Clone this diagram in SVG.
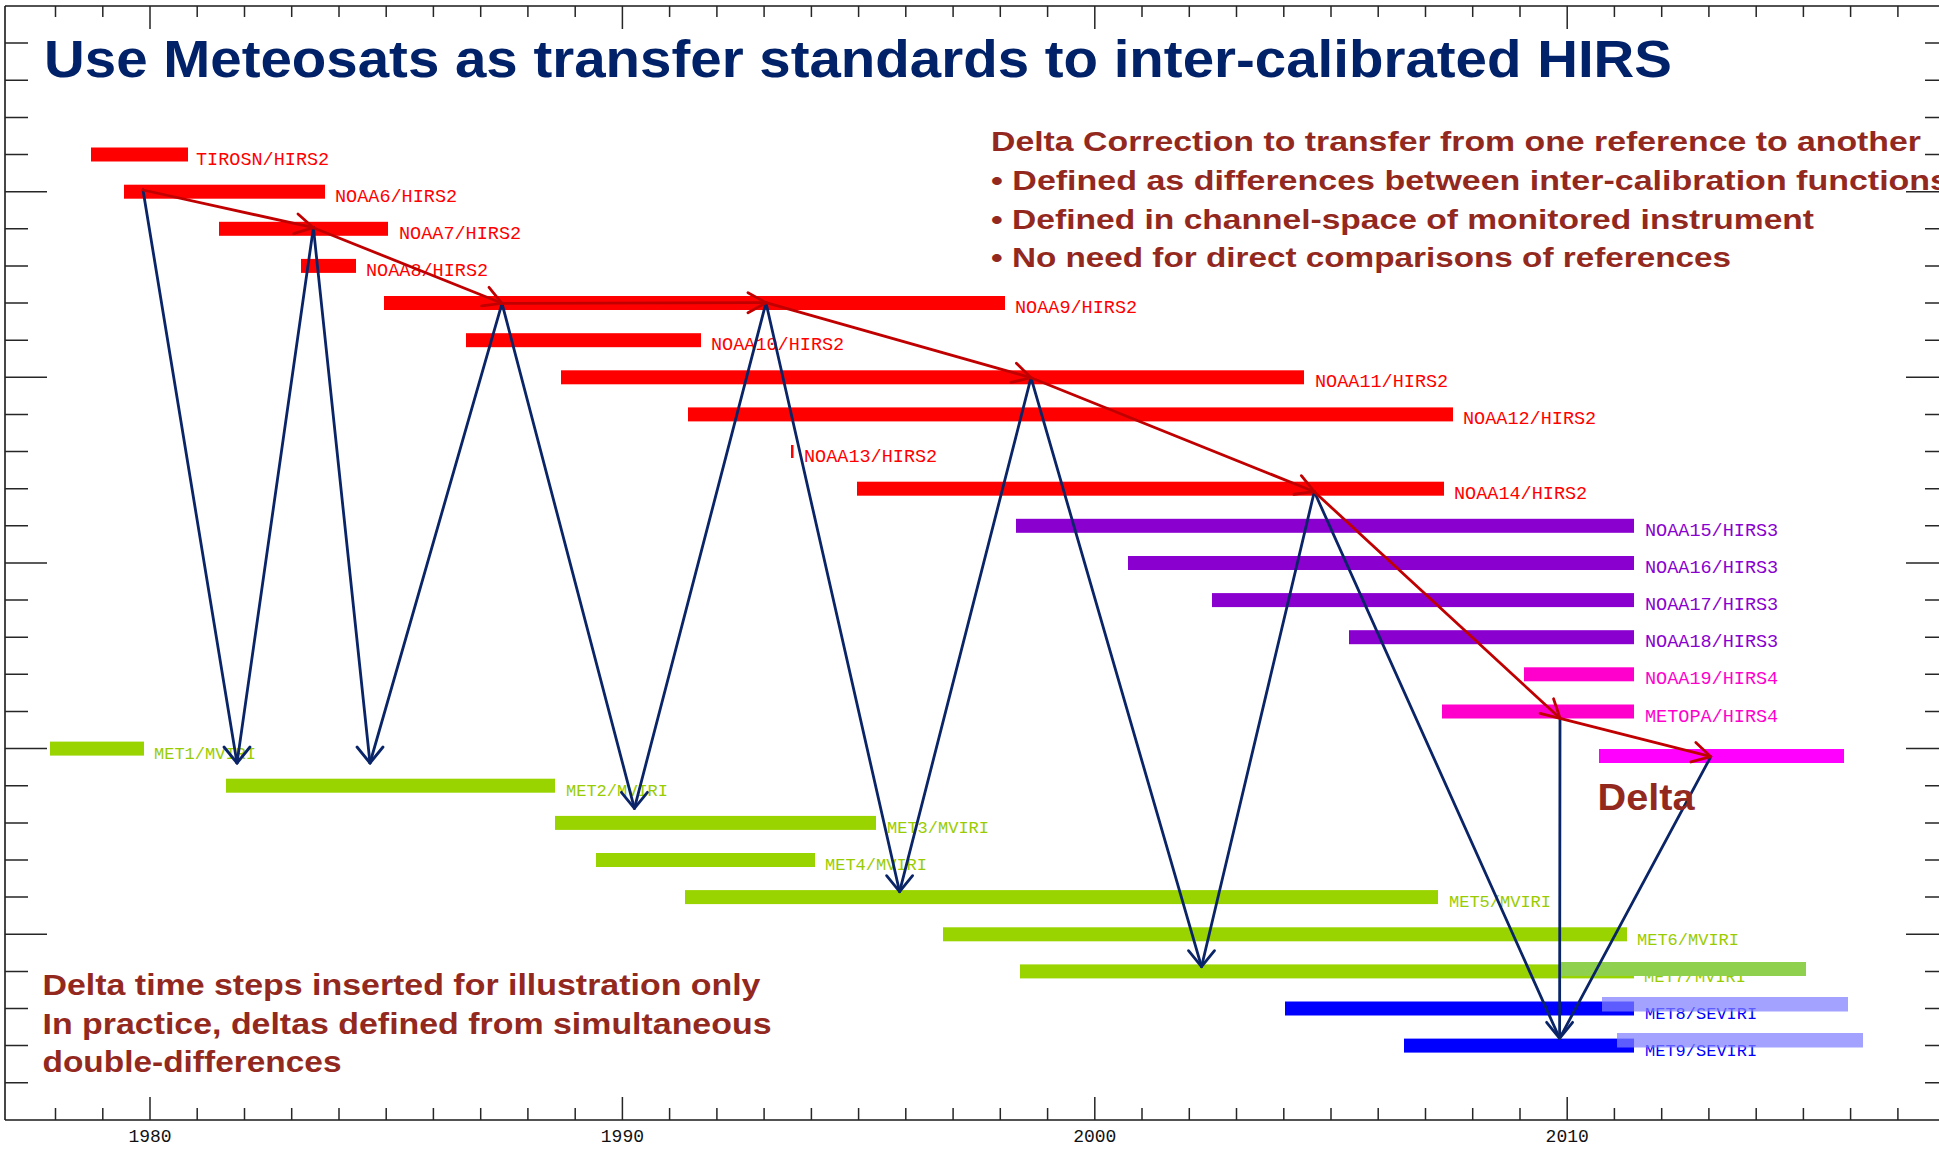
<svg xmlns="http://www.w3.org/2000/svg" width="1939" height="1153" viewBox="0 0 1939 1153">
  <style>
    .axis { stroke: #1a1a1a; stroke-width: 1.6; fill: none; }
    .tick { stroke: #262626; stroke-width: 1.5; fill: none; }
    .year { font-family: "Liberation Mono", monospace; font-size: 18px; fill: #111; text-anchor: middle; }
    .lbl { font-family: "Liberation Mono", monospace; font-size: 18.5px; }
    .lbl.met { font-size: 17px; }
    .c-red { fill: #ff0000; }
    .c-pur { fill: #8a00cf; }
    .c-mag { fill: #ff00cc; }
    .c-grn { fill: #99d400; }
    .t-grn { fill: #99cc00; }
    .c-blu { fill: #0000ff; }
    .link-blue { stroke: #0a2468; stroke-width: 2.8; fill: none; stroke-linecap: round; }
    .link-red { stroke: #c00000; stroke-width: 2.8; fill: none; stroke-linecap: round; }
    .title { font-family: "Liberation Sans", Arial, sans-serif; font-weight: bold; font-size: 51px; fill: #012169; }
    .note { font-family: "Liberation Sans", Arial, sans-serif; font-weight: bold; fill: #93291e; }
  </style>
  <defs>
    <!-- open chevron following the red transfer line -->
    <marker id="headRed" markerUnits="userSpaceOnUse" orient="auto" markerWidth="40" markerHeight="40" refX="0" refY="0" viewBox="-20 -20 40 40" overflow="visible">
      <path d="M-18,-10 L0,0 L-18,10" fill="none" stroke="#c00000" stroke-width="2.8" stroke-linecap="round" stroke-linejoin="round"/>
    </marker>
    <!-- open chevron always pointing straight down -->
    <marker id="headBlue" markerUnits="userSpaceOnUse" orient="90" markerWidth="40" markerHeight="40" refX="0" refY="0" viewBox="-20 -20 40 40" overflow="visible">
      <path d="M-16,-13 L0,0 L-16,13" fill="none" stroke="#0a2468" stroke-width="2.8" stroke-linecap="round" stroke-linejoin="round"/>
    </marker>
  </defs>

  <rect width="1939" height="1153" fill="#ffffff"/>

  <!-- plot frame -->
  <g id="axes">
    <path class="axis" d="M5 6H1939 M5 6V1120 M5 1120H1939"/>
    <!-- bottom axis: yearly ticks -->
    <path class="tick" d="M55.5 1120V1108 M102.8 1120V1108 M197.2 1120V1108 M244.5 1120V1108 M291.7 1120V1108 M339 1120V1108 M386.2 1120V1108 M433.4 1120V1108 M480.7 1120V1108 M527.9 1120V1108 M575.2 1120V1108 M669.6 1120V1108 M716.9 1120V1108 M764.1 1120V1108 M811.4 1120V1108 M858.6 1120V1108 M905.8 1120V1108 M953.1 1120V1108 M1000.3 1120V1108 M1047.6 1120V1108 M1142 1120V1108 M1189.3 1120V1108 M1236.5 1120V1108 M1283.8 1120V1108 M1331 1120V1108 M1378.2 1120V1108 M1425.5 1120V1108 M1472.7 1120V1108 M1520 1120V1108 M1614.4 1120V1108 M1661.7 1120V1108 M1708.9 1120V1108 M1756.2 1120V1108 M1803.4 1120V1108 M1850.6 1120V1108 M1897.9 1120V1108"/>
    <path class="tick" d="M150 1120V1097 M622.4 1120V1097 M1094.8 1120V1097 M1567.2 1120V1097"/>
    <!-- top axis: yearly ticks -->
    <path class="tick" d="M55.5 6V17 M102.8 6V17 M197.2 6V17 M244.5 6V17 M291.7 6V17 M339 6V17 M386.2 6V17 M433.4 6V17 M480.7 6V17 M527.9 6V17 M575.2 6V17 M669.6 6V17 M716.9 6V17 M764.1 6V17 M811.4 6V17 M858.6 6V17 M905.8 6V17 M953.1 6V17 M1000.3 6V17 M1047.6 6V17 M1142 6V17 M1189.3 6V17 M1236.5 6V17 M1283.8 6V17 M1331 6V17 M1378.2 6V17 M1425.5 6V17 M1472.7 6V17 M1520 6V17 M1614.4 6V17 M1661.7 6V17 M1708.9 6V17 M1756.2 6V17 M1803.4 6V17 M1850.6 6V17 M1897.9 6V17"/>
    <path class="tick" d="M150 6V29 M622.4 6V29 M1094.8 6V29 M1567.2 6V29"/>
    <!-- left axis ticks -->
    <path class="tick" d="M5 43.1H28 M5 80.3H28 M5 117.4H28 M5 154.5H28 M5 228.8H28 M5 265.9H28 M5 303H28 M5 340.2H28 M5 414.4H28 M5 451.6H28 M5 488.7H28 M5 525.8H28 M5 600.1H28 M5 637.2H28 M5 674.3H28 M5 711.5H28 M5 785.7H28 M5 822.9H28 M5 860H28 M5 897.1H28 M5 971.4H28 M5 1008.5H28 M5 1045.6H28 M5 1082.8H28"/>
    <path class="tick" d="M5 191.7H47 M5 377.3H47 M5 563H47 M5 748.6H47 M5 934.3H47"/>
    <!-- right axis ticks -->
    <path class="tick" d="M1925 43.1H1939 M1925 80.3H1939 M1925 117.4H1939 M1925 154.5H1939 M1925 228.8H1939 M1925 265.9H1939 M1925 303H1939 M1925 340.2H1939 M1925 414.4H1939 M1925 451.6H1939 M1925 488.7H1939 M1925 525.8H1939 M1925 600.1H1939 M1925 637.2H1939 M1925 674.3H1939 M1925 711.5H1939 M1925 785.7H1939 M1925 822.9H1939 M1925 860H1939 M1925 897.1H1939 M1925 971.4H1939 M1925 1008.5H1939 M1925 1045.6H1939 M1925 1082.8H1939"/>
    <path class="tick" d="M1906 191.7H1939 M1906 377.3H1939 M1906 563H1939 M1906 748.6H1939 M1906 934.3H1939"/>
    <text class="year" x="150" y="1142">1980</text>
    <text class="year" x="622.4" y="1142">1990</text>
    <text class="year" x="1094.8" y="1142">2000</text>
    <text class="year" x="1567.2" y="1142">2010</text>
  </g>

  <!-- HIRS instruments -->
  <g id="tirosn"><rect class="c-red" x="91" y="147.5" width="97" height="14"/><text class="lbl c-red" x="196" y="165">TIROSN/HIRS2</text></g>
  <g id="noaa6"><rect class="c-red" x="124" y="184.7" width="201" height="14"/><text class="lbl c-red" x="335" y="202">NOAA6/HIRS2</text></g>
  <g id="noaa7"><rect class="c-red" x="219" y="221.8" width="169" height="14"/><text class="lbl c-red" x="399" y="239">NOAA7/HIRS2</text></g>
  <g id="noaa8"><rect class="c-red" x="301" y="258.9" width="55" height="14"/><text class="lbl c-red" x="366" y="276">NOAA8/HIRS2</text></g>
  <g id="noaa9"><rect class="c-red" x="384" y="296" width="621" height="14"/><text class="lbl c-red" x="1015" y="313">NOAA9/HIRS2</text></g>
  <g id="noaa10"><rect class="c-red" x="466" y="333.2" width="235" height="14"/><text class="lbl c-red" x="711" y="350">NOAA10/HIRS2</text></g>
  <g id="noaa11"><rect class="c-red" x="561" y="370.3" width="743" height="14"/><text class="lbl c-red" x="1315" y="387">NOAA11/HIRS2</text></g>
  <g id="noaa12"><rect class="c-red" x="688" y="407.4" width="765" height="14"/><text class="lbl c-red" x="1463" y="424">NOAA12/HIRS2</text></g>
  <g id="noaa13"><rect class="c-red" x="791" y="445" width="2.5" height="13"/><text class="lbl c-red" x="804" y="461.5">NOAA13/HIRS2</text></g>
  <g id="noaa14"><rect class="c-red" x="857" y="481.7" width="587" height="14"/><text class="lbl c-red" x="1454" y="499">NOAA14/HIRS2</text></g>
  <g id="noaa15"><rect class="c-pur" x="1016" y="518.8" width="618" height="14"/><text class="lbl c-pur" x="1645" y="536">NOAA15/HIRS3</text></g>
  <g id="noaa16"><rect class="c-pur" x="1128" y="556" width="506" height="14"/><text class="lbl c-pur" x="1645" y="573">NOAA16/HIRS3</text></g>
  <g id="noaa17"><rect class="c-pur" x="1212" y="593.1" width="422" height="14"/><text class="lbl c-pur" x="1645" y="610">NOAA17/HIRS3</text></g>
  <g id="noaa18"><rect class="c-pur" x="1349" y="630.2" width="285" height="14"/><text class="lbl c-pur" x="1645" y="647">NOAA18/HIRS3</text></g>
  <g id="noaa19"><rect class="c-mag" x="1524" y="667.3" width="110" height="14"/><text class="lbl c-mag" x="1645" y="684">NOAA19/HIRS4</text></g>
  <g id="metopa"><rect class="c-mag" x="1442" y="704.5" width="192" height="14"/><text class="lbl c-mag" x="1645" y="721.5">METOPA/HIRS4</text></g>

  <!-- Meteosat instruments -->
  <g id="met1"><rect class="c-grn" x="50" y="741.6" width="94" height="14"/><text class="lbl met t-grn" x="154" y="759">MET1/MVIRI</text></g>
  <g id="met2"><rect class="c-grn" x="226" y="778.7" width="329" height="14"/><text class="lbl met t-grn" x="566" y="796">MET2/MVIRI</text></g>
  <g id="met3"><rect class="c-grn" x="555" y="815.9" width="321" height="14"/><text class="lbl met t-grn" x="887" y="833">MET3/MVIRI</text></g>
  <g id="met4"><rect class="c-grn" x="596" y="853" width="219" height="14"/><text class="lbl met t-grn" x="825" y="870">MET4/MVIRI</text></g>
  <g id="met5"><rect class="c-grn" x="685" y="890.1" width="753" height="14"/><text class="lbl met t-grn" x="1449" y="907">MET5/MVIRI</text></g>
  <g id="met6"><rect class="c-grn" x="943" y="927.3" width="684" height="14"/><text class="lbl met t-grn" x="1637" y="944.5">MET6/MVIRI</text></g>
  <g id="met7"><rect class="c-grn" x="1020" y="964.4" width="614" height="14"/><text class="lbl met t-grn" x="1644" y="981.5">MET7/MVIRI</text></g>
  <g id="met8"><rect class="c-blu" x="1285" y="1001.5" width="349" height="14"/><text class="lbl met c-blu" x="1645" y="1018.5">MET8/SEVIRI</text></g>
  <g id="met9"><rect class="c-blu" x="1404" y="1038.6" width="230" height="14"/><text class="lbl met c-blu" x="1645" y="1055.5">MET9/SEVIRI</text></g>

  <!-- shifted reference periods -->
  <g id="shifted-periods">
    <rect x="1599" y="749" width="245" height="14" fill="#ff00ff"/>
    <rect x="1560" y="962" width="246" height="14" fill="#8fd14f"/>
    <rect x="1602" y="997" width="246" height="14.5" fill="#8080ff" fill-opacity="0.72"/>
    <rect x="1617" y="1033" width="246" height="14.5" fill="#8080ff" fill-opacity="0.72"/>
  </g>

  <!-- connectors -->
  <g id="connectors">
    <!-- Meteosat transfer zig-zag -->
    <line class="link-blue" x1="143" y1="190" x2="237" y2="763" marker-end="url(#headBlue)"/>
    <line class="link-blue" x1="237" y1="763" x2="313.4" y2="227.7"/>
    <line class="link-blue" x1="313.4" y1="227.7" x2="370" y2="763" marker-end="url(#headBlue)"/>
    <line class="link-blue" x1="370" y1="763" x2="502" y2="303.3"/>
    <line class="link-blue" x1="502" y1="303.3" x2="634.4" y2="808.3" marker-end="url(#headBlue)"/>
    <line class="link-blue" x1="634.4" y1="808.3" x2="766" y2="302.7"/>
    <line class="link-blue" x1="766" y1="302.7" x2="899.6" y2="891.7" marker-end="url(#headBlue)"/>
    <line class="link-blue" x1="899.6" y1="891.7" x2="1031" y2="377.7"/>
    <line class="link-blue" x1="1031" y1="377.7" x2="1201.5" y2="966.7" marker-end="url(#headBlue)"/>
    <line class="link-blue" x1="1201.5" y1="966.7" x2="1314.3" y2="491.7"/>
    <line class="link-blue" x1="1314.3" y1="491.7" x2="1559.6" y2="1038.3" marker-end="url(#headBlue)"/>
    <line class="link-blue" x1="1559.6" y1="1038.3" x2="1560" y2="718.3"/>
    <line class="link-blue" x1="1559.6" y1="1038.3" x2="1710.8" y2="756.7"/>
    <!-- delta correction chain -->
    <line class="link-red" x1="143" y1="190" x2="313.4" y2="227.7" marker-end="url(#headRed)"/>
    <line class="link-red" x1="313.4" y1="227.7" x2="502" y2="303.3" marker-end="url(#headRed)"/>
    <line class="link-red" x1="502" y1="303.3" x2="766" y2="302.7" marker-end="url(#headRed)"/>
    <line class="link-red" x1="766" y1="302.7" x2="1031" y2="377.7" marker-end="url(#headRed)"/>
    <line class="link-red" x1="1031" y1="377.7" x2="1314.3" y2="491.7" marker-end="url(#headRed)"/>
    <line class="link-red" x1="1314.3" y1="491.7" x2="1560" y2="718.3" marker-end="url(#headRed)"/>
    <line class="link-red" x1="1560" y1="718.3" x2="1710.8" y2="756.7" marker-end="url(#headRed)"/>
  </g>

  <!-- annotations -->
  <g id="title">
    <text class="title" x="44" y="77" textLength="1628" lengthAdjust="spacingAndGlyphs">Use Meteosats as transfer standards to inter-calibrated HIRS</text>
  </g>
  <g id="delta-notes">
    <text class="note" font-size="27" x="991" y="151" textLength="930" lengthAdjust="spacingAndGlyphs">Delta Correction to transfer from one reference to another</text>
    <text class="note" font-size="27" x="991" y="190" textLength="958" lengthAdjust="spacingAndGlyphs">• Defined as differences between inter-calibration functions</text>
    <text class="note" font-size="27" x="991" y="228.5" textLength="823" lengthAdjust="spacingAndGlyphs">• Defined in channel-space of monitored instrument</text>
    <text class="note" font-size="27" x="991" y="266.5" textLength="740" lengthAdjust="spacingAndGlyphs">• No need for direct comparisons of references</text>
  </g>
  <g id="timestep-notes">
    <text class="note" font-size="29" x="42.5" y="995" textLength="718" lengthAdjust="spacingAndGlyphs">Delta time steps inserted for illustration only</text>
    <text class="note" font-size="29" x="42.5" y="1033.5" textLength="729" lengthAdjust="spacingAndGlyphs">In practice, deltas defined from simultaneous</text>
    <text class="note" font-size="29" x="42.5" y="1071.5" textLength="299" lengthAdjust="spacingAndGlyphs">double-differences</text>
  </g>
  <g id="delta-label">
    <text class="note" font-size="37" x="1597.5" y="810" textLength="97" lengthAdjust="spacingAndGlyphs">Delta</text>
  </g>
</svg>
